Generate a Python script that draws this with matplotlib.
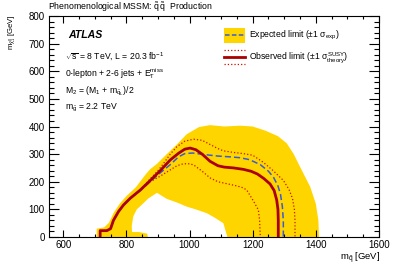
import matplotlib
matplotlib.use("Agg")
import matplotlib.pyplot as plt
from matplotlib.patches import Rectangle
from matplotlib.ticker import MultipleLocator

plt.rcParams["font.family"] = ["Liberation Sans", "DejaVu Sans"]
plt.rcParams["mathtext.fontset"] = "custom"
plt.rcParams["mathtext.rm"] = "Liberation Sans"
plt.rcParams["mathtext.it"] = "Liberation Sans"
plt.rcParams["mathtext.bf"] = "Liberation Sans:bold"

# ------------------------------------------------------------
# contour points (m_squark, m_neutralino) in GeV
# ------------------------------------------------------------
obs_x = [717, 717, 738, 750, 759, 775, 791, 812, 844, 875, 907, 939, 965, 985,
         1002, 1020, 1040, 1065, 1090, 1110, 1140, 1170, 1195, 1215, 1235, 1255,
         1268, 1276, 1280, 1281, 1281]
obs_y = [0, 23, 23, 30, 60, 92, 116, 140, 170, 204, 240, 279, 303, 318,
         322, 316, 300, 274, 258, 253, 250, 245, 238, 228, 212, 192,
         168, 134, 100, 60, 0]

exp_x = [717, 717, 738, 750, 759, 775, 791, 812, 844, 875, 907, 939, 965, 985,
         1010, 1050, 1090, 1130, 1160, 1190, 1224, 1250, 1266, 1280, 1288, 1294,
         1297, 1297]
exp_y = [0, 23, 23, 30, 60, 92, 116, 140, 168, 200, 232, 262, 290, 302,
         304, 298, 293, 290, 287, 280, 262, 238, 216, 185, 155, 110,
         60, 0]

obs_up_x = [717, 717, 738, 750, 759, 775, 791, 812, 844, 875, 900, 917, 939, 960,
            985, 1013, 1040, 1065, 1090, 1107, 1140, 1170, 1200, 1234, 1265, 1297,
            1315, 1326, 1332, 1334, 1334]
obs_up_y = [0, 23, 23, 30, 60, 92, 116, 140, 171, 210, 240, 265, 300, 327,
            347, 354, 350, 335, 320, 312, 306, 302, 296, 270, 240, 205,
            172, 140, 100, 60, 0]

obs_dn_x = [717, 717, 738, 750, 759, 775, 791, 812, 844, 875, 907, 939, 960, 980,
            1000, 1013, 1040, 1065, 1090, 1118, 1150, 1170, 1181, 1192, 1205, 1218,
            1222, 1224]
obs_dn_y = [0, 23, 23, 30, 60, 92, 116, 140, 169, 200, 220, 243, 258, 265,
            265, 261, 238, 214, 200, 193, 185, 178, 170, 150, 125, 98,
            60, 0]

# +-1 sigma expected band: outer edge, then inner edge back to the start
band_x = [706, 706, 730, 745, 760, 780, 800, 830, 860, 875, 897, 928, 960, 991,
          1030, 1065, 1110, 1160, 1200, 1240, 1280, 1308, 1330, 1350, 1382, 1400,
          1408, 1410,
          1120, 1107, 1080, 1055, 1020, 991, 960, 928, 897, 870, 850, 833,
          822, 817, 818, 840, 866, 868]
band_y = [0, 30, 35, 52, 88, 122, 148, 180, 225, 245, 265, 300, 335, 372,
          398, 405, 400, 403, 400, 385, 365, 339, 300, 254, 182, 120,
          60, 0,
          0, 50, 70, 86, 100, 110, 125, 138, 160, 140, 118, 100,
          75, 40, 18, 18, 12, 0]

YELLOW = "#ffd500"
DARKRED = "#aa0000"
RED = "#cc1100"
BLUE = "#3a5ad8"

fig = plt.figure(figsize=(3.99, 2.70), dpi=100)
ax = fig.add_axes([0.1228, 0.1222, 0.8271, 0.8185])

ax.fill(band_x, band_y, color=YELLOW, lw=0, zorder=1)
ax.plot(obs_up_x, obs_up_y, color=RED, ls=":", lw=0.9, zorder=3)
ax.plot(obs_dn_x, obs_dn_y, color=RED, ls=":", lw=0.9, zorder=3)
ax.plot(exp_x, exp_y, color=BLUE, ls=(0, (4, 2)), lw=1.1, zorder=4)
ax.plot(obs_x, obs_y, color=DARKRED, lw=2.0, zorder=5)

ax.set_xlim(555, 1600)
ax.set_ylim(0, 800)
ax.xaxis.set_major_locator(MultipleLocator(200))
ax.xaxis.set_minor_locator(MultipleLocator(50))
ax.yaxis.set_major_locator(MultipleLocator(100))
ax.yaxis.set_minor_locator(MultipleLocator(20))
ax.tick_params(which="both", direction="in", top=True, right=True,
               labelsize=7, width=0.8, pad=3)
ax.tick_params(axis="x", which="major", length=5, pad=2.5)
ax.tick_params(axis="x", which="minor", length=2.5)
ax.tick_params(axis="y", which="major", length=7)
ax.tick_params(axis="y", which="minor", length=3.5)
for s in ax.spines.values():
    s.set_linewidth(0.8)

# axis titles placed ROOT-like at the far ends of the axes
fig.text(380 / 399, 1 - 258 / 270, r"m$_{\tilde{q}}$ [GeV]", fontsize=6.8,
         ha="right", va="center")
fig.text(12 / 399, 1 - 15 / 270, r"m$_{\tilde{\chi}^{0}_{1}}$ [GeV]", fontsize=5.6,
         rotation=90, ha="center", va="top")

fig.text(0.12, 0.974, r"Phenomenological MSSM: $\tilde{q}\,\tilde{q}$  Production",
         fontsize=6.3, va="center", ha="left")

ax.text(0.058, 0.914, "ATLAS", transform=ax.transAxes, fontsize=7.6,
        fontweight="bold", fontstyle="italic", va="center")
info = [r"$\sqrt{s}$ = 8 TeV, L = 20.3 fb$^{-1}$",
        r"0-lepton + 2-6 jets + E$_{\rm T}^{\rm miss}$",
        r"M$_{2}$ = (M$_{1}$ + m$_{\tilde{q}_{L}}$)/2",
        r"m$_{\tilde{g}}$ = 2.2 TeV"]
for txt, yy in zip(info, [0.814, 0.738, 0.661, 0.584]):
    ax.text(0.048, yy, txt, transform=ax.transAxes, fontsize=6.2, va="center")

# legend drawn by hand, ROOT style
ax.add_patch(Rectangle((0.530, 0.878), 0.064, 0.068, transform=ax.transAxes,
                       color=YELLOW, lw=0, zorder=6))
ax.plot([0.533, 0.591], [0.912, 0.912], transform=ax.transAxes, color=BLUE,
        ls=(0, (3, 1.5)), lw=1.1, zorder=7)
ax.plot([0.530, 0.594], [0.814, 0.814], transform=ax.transAxes, color=DARKRED,
        lw=2.0, zorder=7)
ax.plot([0.530, 0.594], [0.846, 0.846], transform=ax.transAxes, color=RED,
        ls=":", lw=0.9, zorder=7)
ax.plot([0.530, 0.594], [0.783, 0.783], transform=ax.transAxes, color=RED,
        ls=":", lw=0.9, zorder=7)
ax.text(0.606, 0.912, r"Expected limit ($\pm$1 $\sigma_{\rm exp}$)",
        transform=ax.transAxes, fontsize=6.2, va="center")
ax.text(0.606, 0.814, r"Observed limit ($\pm$1 $\sigma_{\rm theory}^{\rm SUSY}$)",
        transform=ax.transAxes, fontsize=6.2, va="center")

fig.savefig("out.png", dpi=100)
